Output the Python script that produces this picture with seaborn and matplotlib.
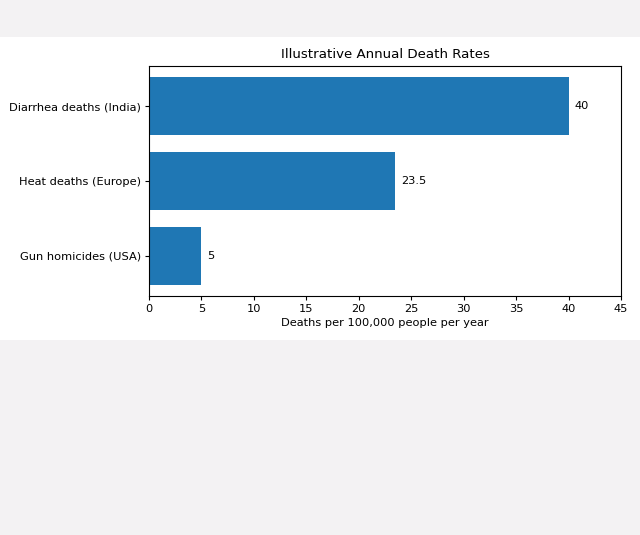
import pandas as pd
import seaborn as sns
import matplotlib.pyplot as plt
from matplotlib.patches import Rectangle

# === DATA ===
categories = ["Diarrhea deaths (India)", "Heat deaths (Europe)", "Gun homicides (USA)"]
rates = [40, 23.5, 5]
xticks = list(range(0, 50, 5))

df = pd.DataFrame({"cause": categories, "rate": rates})

# === FIGURE ===
fig = plt.figure(figsize=(6.4, 5.35), dpi=100, facecolor="#f3f2f3")
# white band behind the chart
fig.patches.append(Rectangle((0, 1 - 340 / 535), 1, (340 - 37) / 535,
                             transform=fig.transFigure, facecolor="white",
                             edgecolor="none", zorder=-10))
ax = fig.add_axes([149 / 640, 1 - 296 / 535, (621 - 149) / 640, (296 - 66) / 535])
ax.set_zorder(1)

sns.barplot(data=df, x="rate", y="cause", orient="h", color="#1f77b4",
            saturation=1, width=0.78, ax=ax)
for c in ax.containers:
    ax.bar_label(c, padding=4, fontsize=8.2)

ax.set_ylim(2.54, -0.54)
ax.set_xlim(0, 45)
ax.set_xticks(xticks)
ax.tick_params(labelsize=8.2, length=3.2, pad=2.8)
ax.set_ylabel("")
ax.set_xlabel("Deaths per 100,000 people per year", fontsize=8.2, labelpad=3)
ax.set_title("Illustrative Annual Death Rates", fontsize=9.6, pad=5.4)

fig.savefig("out.png", dpi=100, facecolor=fig.get_facecolor())
